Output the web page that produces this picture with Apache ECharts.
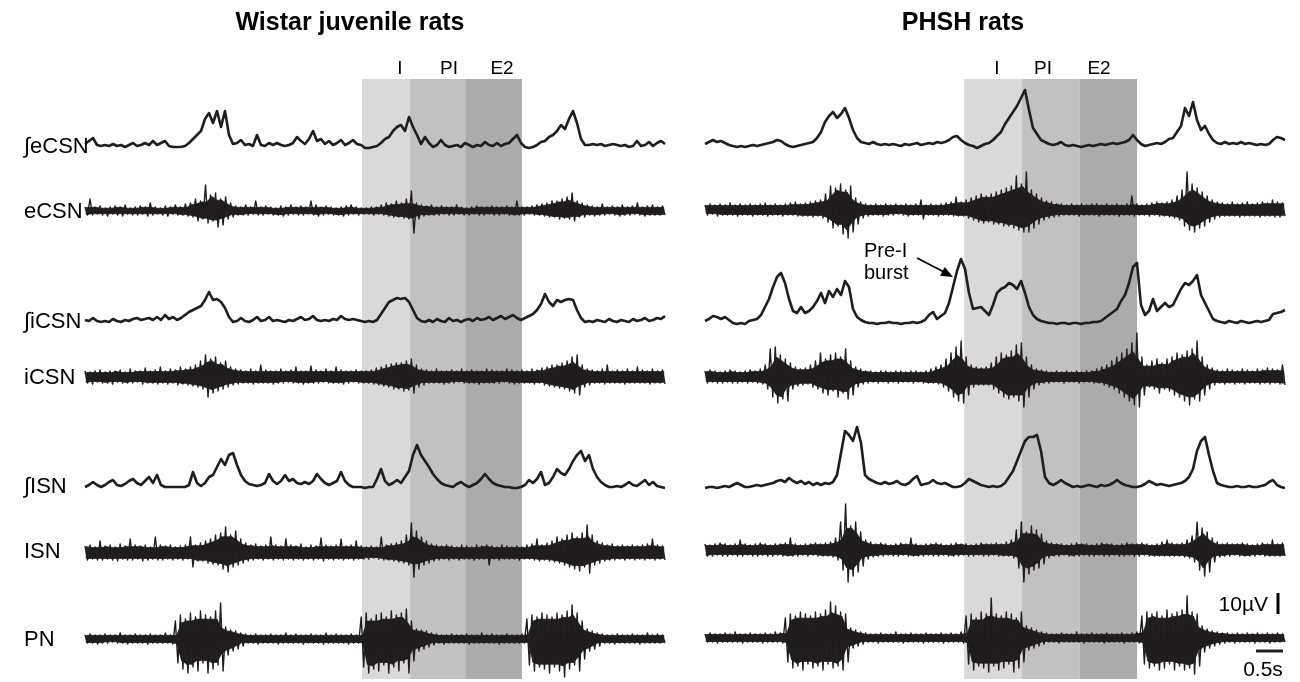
<!DOCTYPE html>
<html><head><meta charset="utf-8">
<script src="https://cdn.jsdelivr.net/npm/echarts@6/dist/echarts.min.js"></script>
<style>html,body{margin:0;padding:0;background:#fff}#c{width:1300px;height:682px}</style>
</head><body><div id="c"></div>
<script>
// ---- data ----
const SPAN = 10.74; // seconds shown in each panel
const titles = ['Wistar juvenile rats', 'PHSH rats'];
const traceNames = ['∫eCSN', 'eCSN', '∫iCSN', 'iCSN', '∫ISN', 'ISN', 'PN'];
const phaseNames = ['I', 'PI', 'E2'];
const wistarPhases = [5.13, 6.02, 7.04, 8.09]; // s
const phshPhases = [4.80, 5.87, 6.94, 8.00];   // s
const scaleBarUV = 10, scaleBarS = 0.5;

// Wistar juvenile rats
const wistarIntECSN = [1.5,3,4.5,1,0.5,1,0.5,1.5,0.5,1,0,1,2,0.5,1,2,1,3,1,2,3,0.5,0,0,0,0.5,2,4,6,8,14,17,12,18,10,18,6,1.5,2,3.5,1,1.5,0.5,6,1,0.5,2,1,2,1,0.5,1,2,5,3,1.5,4,8,3,4,1.5,3,1,2,3.5,1,2,3.5,1.5,1,-0.5,-0.5,0,0.5,2,4,5,8,10,11,8,15,10,6,1.5,5,2,0,1,3.5,1,0,0.5,1,0,2,1,0,1,0.5,2.5,1,0.5,2,0.5,1.5,2,4,6,2,0,-0.5,0,1,2.5,3,5,6,8,11,9,14,18,12,4,1,1,1.5,1,1.5,0.5,1,1.5,1,0.5,1,0,0.5,3,0.5,1,2.5,0.5,2,3,1.5];
const wistarECSN = [2,-2,6,-2,2,-1.5,2.5,-2,1.5,-2.5,2,-1.5,2.5,-2,2,-2.5,3,-1.5,1.5,-2,2,-2,2.5,-1.5,2,-2.5,4,-2,2,-1.5,1.5,-2,2.5,-2.5,2,-1.5,3,-2,2,-2,3.5,-2.5,4,-3,6,-5,5,-4,13,-6,8,-5,9,-8,6,-7,7,-4,4,-3,2.5,-2,2,-2,3,-2,2,-1.5,5,-2,2,-2,2.5,-1.5,2,-2,1.5,-2,2.5,-2.5,2,-2,3,-1.5,2,-2,2.5,-2,2,-1.5,5,-2,3,-2.5,2,-2,2.5,-1.5,2,-2,1.5,-2,2,-2.5,2.5,-2,3,-1.5,2,-2,1.5,-1.5,1.5,-1.5,2,-2,2,-1.5,3,-2,4,-2.5,3.5,-3,5,-3,4,-3.5,6,-4,10,-11,4,-4,3,-2.5,2.5,-2,3,-2,2,-2,2.5,-1.5,2,-2,2,-2,3,-1.5,2,-2,1.5,-2,2,-1.5,2.5,-2,2,-2,2,-1.5,2.5,-2,2,-2,2,-1.5,2.5,-2,2,-2,5,-2,2,-2,2,-1.5,2.5,-2,3,-2,3.5,-2.5,4,-3,5,-3,5,-4,6,-3.5,7,-4,9,-5,5,-3,4,-3,3,-2,2.5,-2.5,2,-2,3.5,-2,2,-1.5,2.5,-2,2,-2.5,3,-2,2,-2,2.5,-1.5,4,-2,2,-2.5,2.5,-2,3,-2,2,-2,2.5,-2];
const wistarIntICSN = [1,0.5,2,0.5,0,0.5,0,1.5,0.5,0,1,0.5,1.5,2,1,1.5,2,1,2.5,1,3.5,1.5,2.5,1,2,3.5,5,6,7,8,11,15,11,11.5,10,7,2.5,0,0.5,2,0.5,0,1,2.5,0.5,1,2.5,0.5,1,0.5,0,1,0.5,1.5,2.5,1,1.5,3,1,0.5,1,0.5,1.5,1,3,1.5,1,1.5,1,0.5,0,0.5,0,1,4,7,10,11,12,11.5,12,10,6,2,0.5,0,1,0,1.5,0.5,0,2,0.5,1,0,1,1.5,0.5,2,1,1.5,2.5,1,2,3,1.5,2.5,3.5,2,1,2,3,4,6,9,14,10,8,11,10,11,11.5,11,6,2,0,0.5,0,1,0.5,0,1.5,0.5,0,1,0.5,0,1.5,0.5,1,2,0.5,1,2,1.5,3];
const wistarICSN = [3,-3,2.5,-3.5,3,-2.5,3.5,-3,2.5,-3,3,-3.5,3,-2.5,3.5,-3,2.5,-3,4,-3,3,-2.5,3,-3.5,4.5,-3,3,-3,3.5,-3.5,5,-3,3,-3.5,4,-3,3.5,-4,5,-3.5,4,-4,5,-4.5,6,-5,8,-6,11,-10,9,-8,10,-7,7,-6,8,-5,5,-4,4,-3.5,3.5,-3,3,-3,4,-3.5,3,-3,6,-3,3.5,-3,3,-3.5,3,-3,4,-3,3,-2.5,3.5,-3,5,-3,3,-3.5,3,-3,5.5,-3,3.5,-3,3,-2.5,4,-3,3,-3,5,-3,3.5,-3.5,3,-3,3,-2.5,3.5,-3,3,-3,3,-3,3.5,-3.5,4.5,-4,5,-4.5,6,-5,6.5,-6,7,-6,7,-7,8,-6.5,9,-8,6,-5,4,-4,3.5,-3,3,-3,4,-3,3,-3.5,3,-3,3.5,-3,3,-2.5,4,-3,3,-3,3.5,-3,3,-3.5,3,-3,4,-3,3.5,-3,3,-3,3,-2.5,4,-3,3.5,-3.5,3,-3,3.5,-3,3,-3,4,-3.5,3.5,-3,4.5,-4,5,-4.5,6,-5,6,-5.5,7,-6,8,-7,10,-8,11,-9,6,-5,4,-4,3.5,-3,3,-3,4,-3.5,6,-3,3,-3,3.5,-3,3,-3.5,4,-3,3,-3,5,-3,3.5,-3,3,-3.5,4,-3,3,-3,3.5,-3.5];
const wistarIntISN = [0,1,2.5,1,0,1,2.5,3.5,1,0.5,1.5,3,4,2,1,3,5,2,6,1,0,0,0,0,0,0,1,7.5,2,0.5,2,5,6,10,14,11,16,17,11,6,3,1.5,1,0.5,1,2,6.5,3,1.5,3,6,3,4,2,1.5,2.5,1.5,3,6.5,4,2,1,2,3,7.5,3,1,0,0,0,-0.5,0,0,4,9,3,1,2,3.5,2,5,8,16,21,16,13,10,6.5,4,2,1,0.5,0,1.5,2.5,1,0,1,2,4,6.5,4,2,1,0.5,0,0,-0.5,-0.5,0,1,3.5,2,4,7.5,1,2,5,9,7,6,9,13,16,18,13,16,9,5,2.5,1,0,0,0.5,0,1,2.5,1,0.5,2,3.5,1,2.5,0.5,0,-0.5];
const wistarISN = [3.5,-3.5,4,-3,3,-3.5,6,-3.5,3.5,-3,4,-3.5,3,-4,4.5,-3,3.5,-3.5,7,-3.5,4,-3,3.5,-4,4,-3.5,3,-3,8,-3.5,4,-3.5,3.5,-3,4,-3.5,3,-3,3.5,-3.5,4,-3,8,-7,4,-4,5,-4,6,-5,7,-5.5,9,-6,10,-8,13,-9.5,9,-7,11,-6,7,-5,5,-4,4,-3.5,4.5,-3,3.5,-3.5,4,-3,8,-3.5,4,-3,3.5,-3.5,7,-3,4,-3.5,3.5,-3,4.5,-3.5,3,-3,4,-3.5,3.5,-3,7.5,-4,4,-3,3.5,-3.5,4,-3,7,-3.5,3.5,-3,4,-3.5,6,-3,3.5,-3,3,-3,3.5,-2.5,3,-3,8,-3.5,4,-3.5,4.5,-4,5,-4.5,6,-5,9,-6,15,-12,11,-8,8,-6,6,-5,4.5,-4,4,-3.5,3.5,-3,4,-3.5,3.5,-3,3,-3.5,4,-3,3.5,-3,3,-3.5,4,-3,3.5,-3,4,-6,3.5,-3,3,-3.5,4,-3,3.5,-3,3,-3,3.5,-3.5,3,-3,4,-3,4.5,-3.5,7,-4,4,-3.5,5,-4,6,-4.5,8,-5,7,-6,9,-7,10,-8,8,-9,10,-7,14,-10,9,-6,6,-5,5,-4,4,-3.5,4.5,-3.5,3.5,-3,4,-3.5,3.5,-3,4,-3.5,3.5,-3,4,-3.5,4.5,-3,7,-3.5,4,-3,3.5,-3.5];
const wistarPN = [2,-2,2.5,-2,2,-2.5,2,-2,2.5,-2,2,-1.5,2,-2,3,-2,2,-2.5,2,-2,2.5,-2,2,-2,2,-2.5,2.5,-2,2,-2,2,-2,3,-2,2,-2.5,9,-12,12,-15,10,-17,13,-14,11,-16,14,-12,12,-17,11,-15,14,-13,18,-16,6,-8,4.5,-6,4,-5,3,-3.5,2.5,-2,2,-2,2.5,-2.5,2,-2,2,-2,2.5,-2,2,-2.5,2,-2,3,-2,2,-2,2.5,-2,2,-2.5,2,-2,2.5,-2,2,-2,2,-2.5,3,-2,2,-2,2.5,-2,2,-2,2,-2.5,2.5,-2,2,-2,11,-14,13,-17,10,-15,12,-16,13,-13,11,-17,14,-14,12,-16,13,-12,15,-17,9,-11,5,-6,4.5,-5,4,-4,3,-3,2.5,-2,2,-2.5,2,-2,2.5,-2,2,-2,2,-2,2.5,-2.5,2,-2,2,-2,3,-2,2,-2,2.5,-2,2,-2.5,2,-2,2.5,-2,2,-2,2,-2,2.5,-2,10,-13,12,-16,11,-14,13,-15,12,-17,11,-14,13,-16,12,-19,14,-15,17,-13,13,-16,9,-10,5,-6,4,-5,3,-3.5,2.5,-2,2,-2,2,-2.5,2.5,-2,2,-2,2,-2,2.5,-2,2,-2.5,2,-2,3,-2,2,-2,2.5,-2,2,-2];

// PHSH rats
const phshIntECSN = [1,2,3,2,2.5,1.5,0.5,0,-0.5,0,-0.5,0,0.5,0,0.5,1,1.5,2,3,2.5,1,0,-0.5,0,0.5,1,1.5,2,4,7,12,15,17,14,16,19,14,8,4,2,1.5,1,2,1,0.5,1,0.5,1,0.5,0,1,0.5,1,1.5,0.5,1,1.5,1,2,1.5,2,3,4.5,5,3,1.5,0.5,0,-1,0,1,1.5,3,5,7,11,14,17,20,24,28,18,9,6,3,2,1,0.5,1,2,0.5,0,0.5,0,-0.5,0,0.5,0,0.5,1,0.5,1,1.5,1,1.5,2,3,5.5,3,1,0,0.5,1,1.5,1,2,3.5,4,7,10,19,15,22,13,8,10,6,3,1.5,1,2,1,1.5,1,2,1,1.5,1,0.5,1,0.5,1,3,4.5,4,3];
const phshECSN = [2.5,-2.5,3,-2,2.5,-3,3,-2.5,2.5,-2.5,3.5,-2.5,2.5,-3,3,-2.5,2.5,-2.5,3,-3,2.5,-2.5,3,-2.5,3.5,-3,2.5,-2.5,3,-2.5,2.5,-3,3,-2.5,3.5,-2.5,4,-3,3,-3,3.5,-3,4,-3.5,4.5,-3,5,-4,8,-6,12,-9,11,-8,13,-12,10,-14,12,-11,6,-7,4,-4,3,-3,2.5,-2.5,3,-2.5,2.5,-3,3,-2.5,2.5,-2.5,3,-2,2.5,-2.5,3,-3,2.5,-2.5,3,-2.5,5,-4.5,2.5,-2.5,3,-2.5,2.5,-3,3,-2.5,3.5,-2.5,4,-3,6.5,-3,4,-3,5,-4,6,-5,7,-6,8,-6.5,7,-6,8,-7,9,-7,10,-8,11,-8,12,-9,17,-10,13,-11,19,-11,10,-9,8,-7,6,-5,4.5,-4,4,-3.5,3,-3,3,-2.5,2.5,-2.5,3,-2.5,2.5,-3,3,-2.5,2.5,-2.5,3,-2.5,3,-3,2.5,-2.5,3,-2.5,2.5,-2.5,3,-3,2.5,-2.5,3,-2.5,7,-3,3,-2.5,2.5,-2.5,3,-3,3.5,-2.5,4,-3,3.5,-3,4,-3.5,5,-4,7,-5,10,-8,19,-10,13,-11,11,-9,9,-8,7,-6,5,-4.5,4,-3.5,3.5,-3,3,-3,4,-3,3,-3.5,3.5,-3,4,-3,3,-3,3.5,-3.5,4,-3,3.5,-3,5,-3.5,4,-3.5,3.5,-3];
const phshIntICSN = [1,2,3.5,3,2,3,1.5,0,-0.5,0,-0.5,1,1.5,2,4,8,12,18,23,25,20,12,6,5,8,5,6,8,11,15,10,16,13,17,14,21,18,7,3,1.5,0.5,0,0,-0.5,0,0,0.5,0,0,-0.5,0,0,0.5,0,0.5,1.5,4,5.5,2,3.5,5,10,18,26,32,27,15,7,7.5,8,6,4,9,15,17,18,20,19,17,21,15,8,4,2,1,0.5,0,0,-0.5,0,0,-0.5,0,0,-0.5,0,0,0.5,0.5,1,2.5,4,5.5,7,11,14,20,28,30,9,4,6,12,6,8,10,8,9,13,17,20,19,21,24,14,10,6,2,1,0.5,0,1,0.5,0,1,0.5,0,0.5,1,0.5,1,1.5,4.5,5,5.5,6.5];
const phshICSN = [3,-3,3.5,-2.5,3,-3,2.5,-3,3,-2.5,3.5,-3,3,-3,2.5,-2.5,3,-3,3.5,-2.5,3,-3,4,-3.5,6,-6,14,-10,15,-13,11,-11,9,-12,7,-6,5,-4.5,4,-4,4.5,-3.5,6,-5,8,-6,12,-8,9,-9,11,-7,12,-10,10,-8,14,-11,8,-9,5,-5,4,-3.5,3,-3,3,-2.5,2.5,-3,3,-2.5,3,-3,2.5,-2.5,3,-3,3,-2.5,2.5,-2.5,3,-3,3,-2.5,2.5,-3,3,-3,4,-3,5,-3.5,6,-5,9,-7,12,-10,15,-12,18,-13,10,-9,6,-5,5,-4,4.5,-4,5,-4,7,-6,10,-8,12,-10,11,-11,13,-10,16,-12,17,-15,10,-10,6,-6,4,-4,3.5,-3,3,-3,2.5,-2.5,3,-2.5,2.5,-3,3,-2.5,2.5,-2.5,3,-3,2.5,-2.5,3,-2.5,3,-3,4,-3,5,-4,6,-5,8,-6,10,-8,12,-10,14,-12,17,-14,22,-15,10,-9,6,-5,8,-6,9,-8,7,-6,9,-7,10,-9,12,-10,11,-12,13,-14,14,-11,18,-12,10,-9,6,-6,4.5,-4,3.5,-3,3,-3.5,4,-3,3.5,-3.5,3,-3,4,-3.5,3.5,-3,3,-3,4,-3.5,3.5,-3,4.5,-3.5,4,-3,3.5,-3.5,6,-4];
const phshIntISN = [-0.5,0,0,-0.5,0,0.5,0,1,2,1,0,0,0.5,1,0.5,1,1.5,2,3,3.5,2.5,4.5,3,2,3,1.5,2.5,1,2,1,2,1.5,2.5,6,17,28,26,23,30,22,6,4,3,2,1.5,2.5,1.5,2,3,1.5,1,2,4,5.5,1,1.5,2,3.5,2,1.5,2,1,0,0,0.5,2,4,3,2,1,0.5,0,0.5,0,0.5,2,5,8,13,18,23,25,25,26,18,5,2,1,2,3.5,2,1,0,0.5,0,0.5,1,0.5,0,1,0.5,1,2,3.5,2,1,0.5,0,0,0.5,1.5,3,2,1,1.5,1,0.5,1,1.5,2,3,5,9,18,23,25,16,8,2,1,0.5,0,0,0.5,0,0,0.5,0,0,0.5,1,2.5,3.5,1,0,-0.5];
const phshISN = [3,-3,2.5,-3,3,-2.5,3.5,-3,3,-3,2.5,-2.5,3,-3,5,-3,3,-2.5,2.5,-3,3,-3,3.5,-2.5,3,-3,2.5,-3,3,-2.5,3,-3,3.5,-3,6,-3,3,-3,2.5,-2.5,3,-3,3,-2.5,3.5,-3,3,-3,3.5,-3,4,-3.5,6,-5,14,-10,23,-16,12,-13,14,-11,9,-8,5,-4.5,4,-3.5,3,-3,3.5,-3,3,-2.5,2.5,-3,3,-3,3.5,-2.5,3,-3,6,-3,3,-3,2.5,-3,3,-2.5,3,-3,3.5,-3,3,-2.5,2.5,-3,3,-3,3.5,-3,3,-2.5,3,-3,2.5,-3,3,-2.5,3.5,-3,3,-3,3,-2.5,3.5,-3,3,-3,4,-3,5,-4,10,-9,14,-16,9,-12,12,-10,10,-9,8,-7,4.5,-4,3.5,-3,3,-3,3,-2.5,2.5,-3,3,-3,3.5,-3,3,-2.5,3,-3,2.5,-3,3,-2.5,3.5,-3,3,-3,3,-2.5,2.5,-3,3,-3,3.5,-2.5,3,-3,3,-3,3.5,-2.5,3,-3,2.5,-3,3,-3,4,-3,5,-3,3.5,-3,3,-3,3.5,-3.5,5,-4,7,-6,14,-10,11,-13,9,-11,6,-6,4,-3.5,3,-3,3.5,-3,3,-2.5,3,-3,3.5,-3,3,-3,2.5,-3,3,-2.5,3.5,-3,3,-3,5,-3,3,-3,3.5,-3];
const phshPN = [2,-2,2.5,-2,2,-2.5,2,-2,2.5,-2,2,-2,3,-2,2,-2.5,2,-2,2.5,-2,2,-2,2,-2.5,2.5,-2,2,-2,3,-2,2.5,-2.5,10,-12,12,-15,11,-14,13,-16,12,-13,11,-15,13,-14,12,-16,14,-13,18,-15,16,-14,13,-16,12,-12,5,-5,4,-4,3,-3,2.5,-2,2,-2,2,-2.5,2.5,-2,2,-2,2,-2,3,-2,2,-2.5,2,-2,2.5,-2,2,-2,2,-2.5,2.5,-2,2,-2,2,-2,2.5,-2.5,2,-2,2.5,-2,2,-2,3,-2.5,11,-13,12,-16,10,-14,13,-15,12,-17,20,-14,12,-16,11,-15,13,-13,12,-17,10,-15,13,-12,6,-6,5,-5,4,-4,3,-3,2.5,-2,2,-2,2,-2.5,2.5,-2,2,-2,2,-2,3,-2,2,-2.5,2,-2,2.5,-2,2,-2,2,-2.5,2.5,-2,2,-2,2,-2,2.5,-2.5,2,-2,2.5,-2,3,-2.5,11,-13,13,-15,12,-14,13,-16,11,-15,14,-13,12,-16,13,-14,14,-16,21,-15,13,-18,12,-14,6,-7,4.5,-5,3.5,-4,3,-3,2.5,-2.5,2.5,-2,2,-2.5,2.5,-2,2,-2,2.5,-2,2,-2.5,2.5,-2,2,-2,2.5,-2.5,2,-2,2.5,-2,2,-2];

// ---- layout & style ----
const FONT = '"Liberation Sans", Arial, Helvetica, sans-serif';
const INK = '#1f1d1e';
const PX_PER_UNIT = 2, HALF = 20;
const CORE = 0.9; // fraction of the local envelope drawn as the solid core of a raw trace
const shadeColors = ['#d9d9d9', '#c1c1c1', '#ababab'];
const panels = [
  {left: 85, width: 580, base: [147, 211, 322, 377, 487, 553, 639],
   traces: [wistarIntECSN, wistarECSN, wistarIntICSN, wistarICSN, wistarIntISN, wistarISN, wistarPN], phases: wistarPhases},
  {left: 705, width: 580, base: [146, 210, 323, 377, 487, 550, 638],
   traces: [phshIntECSN, phshECSN, phshIntICSN, phshICSN, phshIntISN, phshISN, phshPN], phases: phshPhases}
];

// solid core of a raw (alternating) recording: local envelope of its own samples
function coreBand(arr) {
  const n = Math.floor(arr.length / 2), dt = SPAN / (arr.length - 1);
  const up = [], lo = [], t = [];
  for (let p = 0; p < n; p++) {
    const ups = [], los = [];
    for (let q = Math.max(0, p - 1); q <= Math.min(n - 1, p + 1); q++) { ups.push(arr[2 * q]); los.push(arr[2 * q + 1]); }
    up.push(CORE * Math.min.apply(null, ups));
    lo.push(CORE * Math.max.apply(null, los));
    t.push((2 * p + 0.5) * dt);
  }
  const items = [];
  for (let p = 0; p < n - 1; p++) items.push([t[p], up[p], lo[p], t[p + 1], up[p + 1], lo[p + 1]]);
  return items;
}

const grids = [], xAxes = [], yAxes = [], series = [];
panels.forEach((p) => {
  const g = grids.length;
  grids.push({left: p.left, width: p.width, top: 79, height: 600});
  xAxes.push({type: 'value', gridIndex: g, min: 0, max: SPAN, show: false});
  yAxes.push({type: 'value', gridIndex: g, min: 0, max: 1, show: false});
  series.push({
    type: 'custom', xAxisIndex: g, yAxisIndex: g, z: 1, silent: true,
    data: phaseNames.map((n, k) => [p.phases[k], p.phases[k + 1], k]),
    renderItem: (params, api) => {
      const a = api.coord([api.value(0), 1]);
      const b = api.coord([api.value(1), 0]);
      return {type: 'rect', shape: {x: a[0], y: a[1], width: b[0] - a[0], height: b[1] - a[1]},
              style: {fill: shadeColors[api.value(2)]}};
    }
  });
  p.traces.forEach((arr, k) => {
    const gi = grids.length;
    const integrated = (k % 2 === 0) && k < 6;
    grids.push({left: p.left, width: p.width, top: p.base[k] - HALF * PX_PER_UNIT, height: 2 * HALF * PX_PER_UNIT});
    xAxes.push({type: 'value', gridIndex: gi, min: 0, max: SPAN, show: false});
    yAxes.push({type: 'value', gridIndex: gi, min: -HALF, max: HALF, show: false});
    if (!integrated) {
      series.push({
        type: 'custom', xAxisIndex: gi, yAxisIndex: gi, z: 2, silent: true, clip: false,
        data: coreBand(arr),
        renderItem: (params, api) => {
          const a = api.coord([api.value(0), api.value(1)]);
          const b = api.coord([api.value(3), api.value(4)]);
          const c = api.coord([api.value(3), api.value(5)]);
          const d = api.coord([api.value(0), api.value(2)]);
          return {type: 'polygon', shape: {points: [a, b, c, d]},
                  style: {fill: INK, stroke: INK, lineWidth: 0.8}};
        }
      });
    }
    series.push({
      type: 'line', name: traceNames[k], xAxisIndex: gi, yAxisIndex: gi, z: 3, silent: true,
      showSymbol: false, symbol: 'none', clip: false,
      lineStyle: {color: INK, width: integrated ? 2.6 : 1.4, join: 'round'},
      data: arr.map((v, i) => [i * SPAN / (arr.length - 1), v])
    });
  });
});

function txt(x, y, text, font, align) {
  return {type: 'text', x: x, y: y, silent: true, z: 10,
    style: {text: text, font: font, fill: '#000', textAlign: align || 'left', align: align || 'left',
            textVerticalAlign: 'middle', verticalAlign: 'middle'}};
}
const graphic = [];
graphic.push(txt(350, 23, titles[0], 'bold 25px ' + FONT, 'center'));
graphic.push(txt(963, 23, titles[1], 'bold 25px ' + FONT, 'center'));
[[400, 449, 502], [997, 1043, 1099]].forEach(xs => xs.forEach((x, k) => graphic.push(txt(x, 69, phaseNames[k], '19px ' + FONT, 'center'))));
const labelY = [147, 212, 322, 378, 487, 552, 640];
traceNames.forEach((n, k) => graphic.push(txt(24, labelY[k], n, '22px ' + FONT, 'left')));
graphic.push(txt(864, 251, 'Pre-I', '20px ' + FONT, 'left'));
graphic.push(txt(864, 273, 'burst', '20px ' + FONT, 'left'));
graphic.push({type: 'line', silent: true, z: 10, shape: {x1: 917, y1: 258, x2: 943, y2: 271.5}, style: {stroke: '#000', lineWidth: 1.6}});
graphic.push({type: 'polygon', silent: true, z: 10, shape: {points: [[953, 277], [940, 275.8], [944.8, 267]]}, style: {fill: '#000'}});
graphic.push(txt(1268, 605, scaleBarUV + 'µV', '21px ' + FONT, 'right'));
graphic.push({type: 'rect', silent: true, z: 10, shape: {x: 1276.5, y: 593, width: 3, height: scaleBarUV * 2.1}, style: {fill: '#000'}});
graphic.push(txt(1263, 670, scaleBarS + 's', '21px ' + FONT, 'center'));
graphic.push({type: 'rect', silent: true, z: 10, shape: {x: 1256, y: 649.5, width: scaleBarS * 580 / SPAN, height: 3}, style: {fill: '#222'}});

const chart = echarts.init(document.getElementById('c'), null, {renderer: 'canvas', width: 1300, height: 682});
chart.setOption({
  animation: false,
  backgroundColor: '#fff',
  grid: grids, xAxis: xAxes, yAxis: yAxes, series: series,
  graphic: graphic
});
</script>
</body></html>
